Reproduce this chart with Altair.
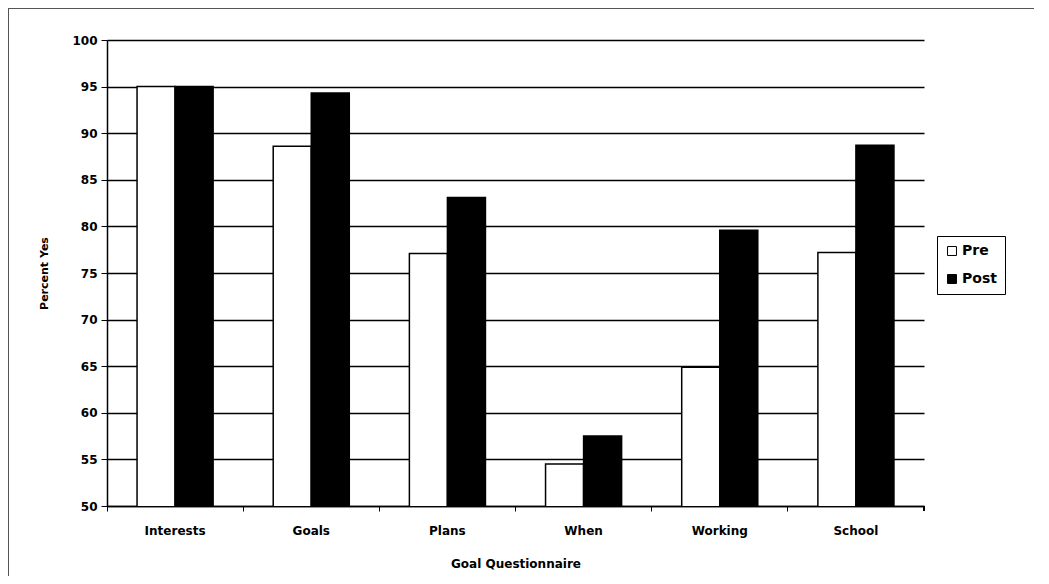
import altair as alt
import pandas as pd

categories = ["Interests", "Goals", "Plans", "When", "Working", "School"]
pre_values = [95.0, 88.6, 77.1, 54.5, 64.9, 77.2]
post_values = [95.0, 94.3, 83.1, 57.5, 79.6, 88.7]
series = ["Pre", "Post"]

rows = []
for c, p, q in zip(categories, pre_values, post_values):
    rows.append({"cat": c, "series": "Pre", "value": p})
    rows.append({"cat": c, "series": "Post", "value": q})
df = pd.DataFrame(rows)

FONT = "DejaVu Sans"

bars = alt.Chart(df).mark_bar(stroke="black", strokeWidth=1.5, clip=True).encode(
    x=alt.X("cat:N", sort=categories, title="Goal Questionnaire",
            scale=alt.Scale(paddingInner=0, paddingOuter=0),
            axis=alt.Axis(labelAngle=0, bandPosition=0, tickSize=5, tickColor="black",
                          domainColor="black", domainWidth=1.5, labelPadding=14,
                          titlePadding=22, titleFontSize=12, grid=False)),
    xOffset=alt.XOffset("series:N", sort=series,
                        scale=alt.Scale(paddingInner=0, paddingOuter=0.79)),
    y=alt.Y("value:Q", title="Percent Yes",
            scale=alt.Scale(domain=[50, 100], nice=False, zero=False),
            axis=alt.Axis(values=list(range(50, 101, 5)), tickSize=6, tickColor="black",
                          domainColor="black", domainWidth=1.5, gridColor="black",
                          gridWidth=1.5, gridOpacity=1, labelPadding=4, titlePadding=22)),
    fill=alt.Fill("series:N", sort=series,
                  scale=alt.Scale(domain=series, range=["white", "black"]),
                  legend=alt.Legend(title=None, orient="none", legendX=830, legendY=196,
                                    symbolType="square", symbolStrokeColor="black",
                                    symbolStrokeWidth=1, symbolSize=80,
                                    strokeColor="black", padding=8, rowPadding=14,
                                    labelFontSize=14, labelFont=FONT, labelFontWeight="bold",
                                    labelColor="black", labelOffset=3)),
)

frame_top = alt.Chart(df).mark_rule(color="#555555", strokeWidth=2).encode(
    x=alt.value(-99), x2=alt.value(942), y=alt.value(-32)
)
frame_left = alt.Chart(df).mark_rule(color="#555555", strokeWidth=2).encode(
    x=alt.value(-99), y=alt.value(-32), y2=alt.value(600)
)
end_tick = alt.Chart(df).mark_rule(color="black", strokeWidth=1.5).encode(
    x=alt.value(817), y=alt.value(466), y2=alt.value(471)
)

chart = alt.layer(bars, frame_top, frame_left, end_tick).properties(
    width=817, height=466,
    autosize=alt.AutoSizeParams(type="none"),
    padding={"left": 99, "top": 32, "right": 110, "bottom": 70},
    background="white",
).configure_view(stroke=None).configure_axis(
    labelFont=FONT, titleFont=FONT, labelFontSize=12, titleFontSize=11,
    labelFontWeight="bold", titleFontWeight="bold", labelColor="black", titleColor="black"
)

chart.save("out.html", embed_options={"renderer": "svg", "actions": False})
